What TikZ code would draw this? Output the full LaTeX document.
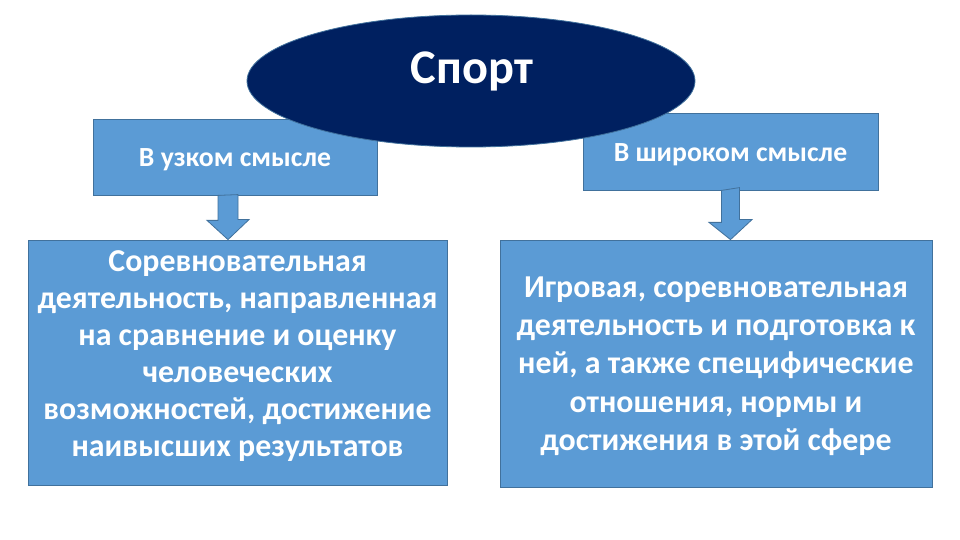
\documentclass[tikz,border=0pt]{standalone}
\usepackage{fontspec}
\setmainfont{Carlito}
\usetikzlibrary{calc,shapes.geometric}
\definecolor{boxblue}{HTML}{5B9BD5}
\definecolor{boxline}{HTML}{41719C}
\definecolor{navy}{HTML}{002060}
\tikzset{
  box/.style={draw=boxline, fill=boxblue, line width=0.8bp, rectangle, inner sep=0pt},
  wtext/.style={text=white, font=\bfseries, align=center, inner sep=0pt},
  blockarrow/.style={draw=boxline, fill=boxblue, line width=0.8bp, line join=miter}
}
\begin{document}
\begin{tikzpicture}[x=1bp,y=-1bp]
\useasboundingbox[fill=white] (0,0) rectangle (960,540);
% top boxes
\node[box, minimum width=284bp, minimum height=76bp] (lt) at (235,157) {};
\node[wtext, font=\bfseries\fontsize{27.8}{32}\selectfont] (ltt) at (235,160) {В узком смысле};
\node[box, minimum width=295bp, minimum height=77bp] (rt) at (730.5,151.5) {};
\node[wtext, font=\bfseries\fontsize{27.8}{32}\selectfont] (rtt) at (730.5,155) {В широком смысле};
% ellipse
\node[draw=boxline, fill=navy, ellipse, line width=0.8bp, minimum width=448bp, minimum height=132bp, inner sep=0pt] (sp) at (471,81) {};
\node[wtext, font=\bfseries\fontsize{48.5}{52}\selectfont] (spt) at (472,71) {Спорт};
% bottom boxes
\node[box, minimum width=419bp, minimum height=245bp] (lb) at (237.5,362.5) {};
\node[wtext, font=\bfseries\fontsize{32}{37}\selectfont] (lbt) at (237.5,356) {Соревновательная\\деятельность, направленная\\на сравнение и оценку\\человеческих\\возможностей, достижение\\наивысших результатов};
\node[box, minimum width=432bp, minimum height=247bp] (rb) at (716,363.5) {};
\node[wtext, font=\bfseries\fontsize{32}{38.5}\selectfont] (rbt) at (716,366) {Игровая, соревновательная\\деятельность и подготовка к\\ней, а также специфические\\отношения, нормы и\\достижения в этой сфере};
% arrows
\coordinate (la) at (228,0);
\draw[blockarrow] (la |- lt.south) ++(-10,0) -- ++(0,25) -- ++(-11,0) -- (la |- lb.north) -- ++(21,-20) -- ++(-11,0) -- ++(0,-25) -- cycle;
\draw[blockarrow] (rt.south) ++(-9,0) -- ++(0,32) -- ++(-12.5,0) -- (rt.south |- rb.north) -- ++(21.5,-20) -- ++(-12.5,0) -- ++(0,-32) -- cycle;
\end{tikzpicture}
\end{document}
